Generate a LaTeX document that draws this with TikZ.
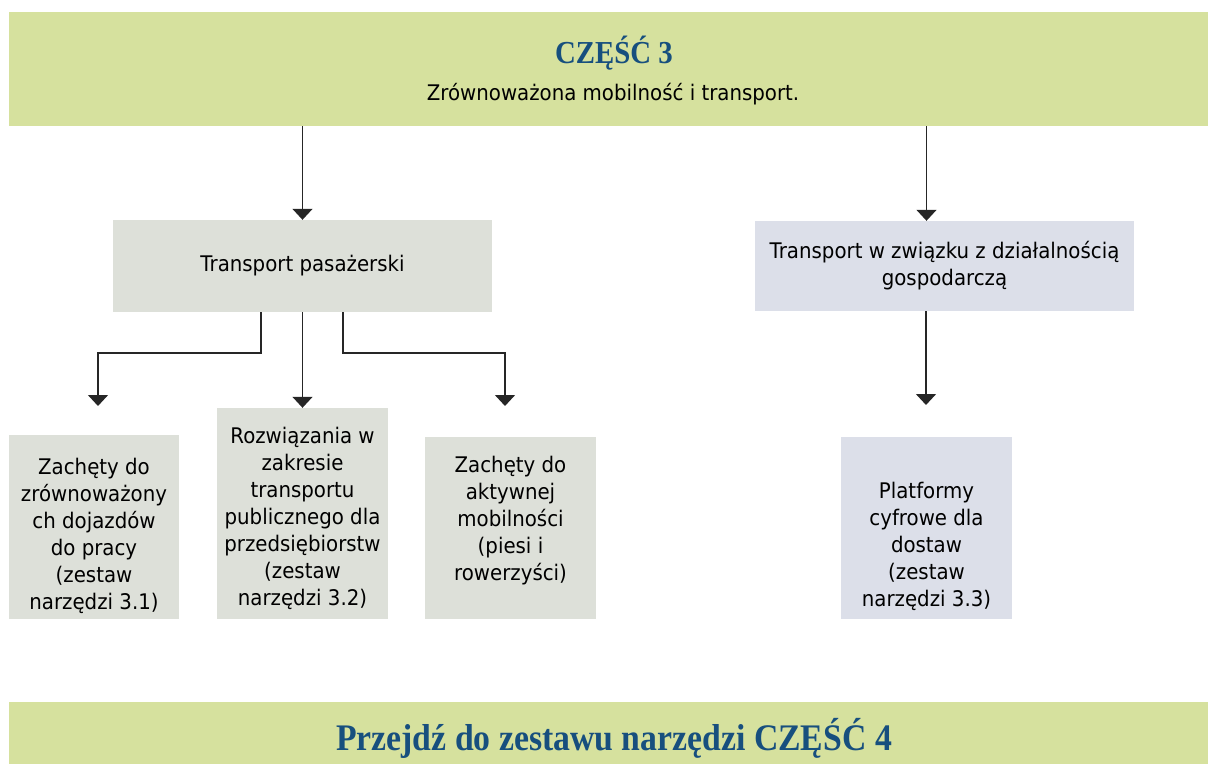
\documentclass[tikz,border=0pt]{standalone}
\usepackage{fontspec}
\setmainfont{DejaVu Sans}[FakeStretch=0.92]
\newfontfamily\headfont{Liberation Serif}[FakeStretch=0.9]
\usetikzlibrary{arrows.meta}
\definecolor{bannergreen}{RGB}{214, 225, 158}
\definecolor{boxgray}{RGB}{221, 224, 217}
\definecolor{boxblue}{RGB}{220, 223, 233}
\definecolor{headblue}{RGB}{23, 79, 126}
\tikzset{
    banner/.style={fill=bannergreen, inner sep=0, minimum width=1199pt},
    graybox/.style={fill=boxgray, inner sep=0},
    bluebox/.style={fill=boxblue, inner sep=0},
    boxtext/.style={align=center, font=\fontsize{21.5}{27}\selectfont},
    headtext/.style={font=\headfont\bfseries\fontsize{#1}{#1}\selectfont,
        text=headblue, anchor=base},
    arr/.style={-{Triangle[width=20pt, length=11pt]}, line width=1.5pt,
        draw=black!85},
}

\begin{document}
\begin{tikzpicture}[x=1pt, y=-1pt]
    \useasboundingbox (0, 0) rectangle (1208, 764);
    % header
    \node[banner, minimum height=114pt] (czesc) at (608.5, 69) {};
    \node[headtext=32] (czesc-title) at (614, 63) {CZĘŚĆ 3};
    \node[boxtext, anchor=base] (czesc-sub) at (613, 100)
        {Zrównoważona mobilność i transport.};
    % second level
    \node[graybox, minimum width=379pt, minimum height=92pt] (pasaz)
        at (302.5, 266) {};
    \node[boxtext] (pasaz-txt) at (pasaz.center) {Transport pasażerski};
    \node[bluebox, minimum width=379pt, minimum height=90pt] (gosp)
        at (944.5, 266) {};
    \node[boxtext] (gosp-txt) at (gosp.center)
        {Transport w związku z działalnością\\gospodarczą};
    % third level
    \node[graybox, minimum width=170pt, minimum height=184pt] (zach1)
        at (94, 527) {};
    \node[boxtext] (zach1-txt) at ([yshift=-9pt]zach1.center)
        {Zachęty do\\zrównoważony\\ch dojazdów\\do pracy\\(zestaw\\narzędzi 3.1)};
    \node[graybox, minimum width=171pt, minimum height=211pt] (rozw)
        at (302.5, 513.5) {};
    \node[boxtext] (rozw-txt) at ([yshift=-5pt]rozw.center)
        {Rozwiązania w\\zakresie\\transportu\\publicznego dla\\przedsiębiorstw\\(zestaw\\narzędzi 3.2)};
    \node[graybox, minimum width=171pt, minimum height=182pt] (zach2)
        at (510.5, 528) {};
    \node[boxtext] (zach2-txt) at ([yshift=7pt]zach2.center)
        {Zachęty do\\aktywnej\\mobilności\\(piesi i\\rowerzyści)};
    \node[bluebox, minimum width=171pt, minimum height=182pt] (platf)
        at (926.5, 528) {};
    \node[boxtext] (platf-txt) at ([yshift=-18pt]platf.center)
        {Platformy\\cyfrowe dla\\dostaw\\(zestaw\\narzędzi 3.3)};
    % footer
    \node[banner, minimum height=62pt] (next) at (608.5, 733) {};
    \node[headtext=37.5] (next-txt) at (614, 750)
        {Przejdź do zestawu narzędzi CZĘŚĆ 4};
    % arrows
    \coordinate (tip1) at (98, 406);
    \coordinate (tip3) at (505, 406);
    \coordinate (tip4) at (926, 405);
    \draw[arr] (czesc.south -| pasaz.north) -- (pasaz.north);
    \draw[arr] (czesc.south -| platf.north) -- (platf.north |- gosp.north);
    \draw[arr] ([xshift=-41.5pt]pasaz.south) -- ++(0, 41) -| (tip1);
    \draw[arr] (pasaz.south) -- (rozw.north);
    \draw[arr] ([xshift=40.5pt]pasaz.south) -- ++(0, 41) -| (tip3);
    \draw[arr] (tip4 |- gosp.south) -- (tip4);
\end{tikzpicture}
\end{document}
